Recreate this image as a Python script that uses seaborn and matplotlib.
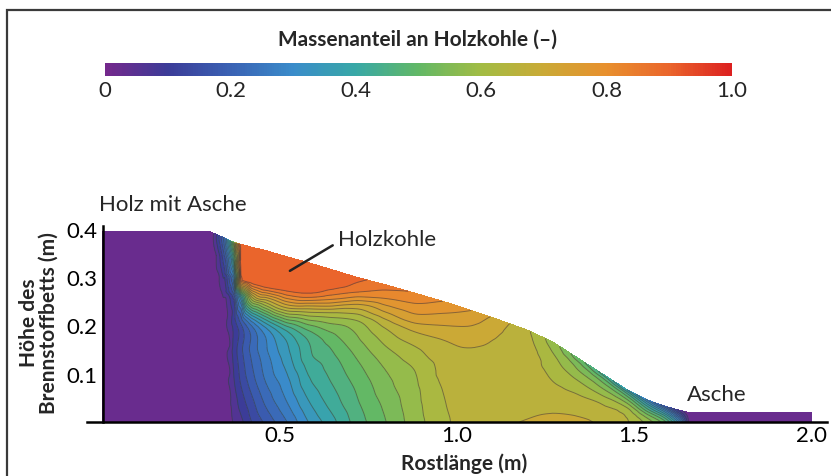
import numpy as np
import matplotlib
matplotlib.use("Agg")
import matplotlib.pyplot as plt
import matplotlib.tri as mtri
from matplotlib.patches import Rectangle
from matplotlib.colors import Normalize
from matplotlib.ticker import MultipleLocator, FixedLocator
import seaborn as sns

sns.set_style("white")
plt.rcParams["font.family"] = ["Lato", "DejaVu Sans"]

# ---------------- data ----------------
# grate positions (m) of the sampled columns
x_cols = [0.00, 0.30, 0.34, 0.37, 0.39, 0.42, 0.46, 0.52, 0.58, 0.64, 0.72, 0.80, 0.88,
          0.96, 1.04, 1.12, 1.20, 1.27, 1.34, 1.41, 1.48, 1.54, 1.59, 1.63, 1.66, 1.80, 2.00]
# bed surface height (m) at those columns
h_top = [0.395, 0.395, 0.382, 0.372, 0.368, 0.362, 0.355, 0.342, 0.330, 0.317, 0.299, 0.284, 0.267,
         0.250, 0.231, 0.211, 0.190, 0.166, 0.133, 0.100, 0.067, 0.045, 0.032, 0.024, 0.019, 0.019, 0.019]
# relative height within the bed (0 = grate, 1 = surface)
s_rows = [0.0, 0.12, 0.25, 0.40, 0.55, 0.70, 0.80, 0.90, 1.00]
# char mass fraction per column, bottom -> top
char_cols = [
    [0, 0, 0, 0, 0, 0, 0, 0, 0],
    [0, 0, 0, 0, 0, 0, 0, 0, 0],
    [0, 0, 0, 0, 0.02, 0.05, 0.09, 0.14, 0.20],
    [0.045, 0.06, 0.08, 0.095, 0.10, 0.15, 0.28, 0.42, 0.55],
    [0.07, 0.10, 0.13, 0.15, 0.16, 0.35, 0.85, 0.905, 0.91],
    [0.12, 0.15, 0.185, 0.21, 0.24, 0.60, 0.895, 0.91, 0.91],
    [0.17, 0.21, 0.245, 0.27, 0.32, 0.65, 0.905, 0.91, 0.91],
    [0.24, 0.28, 0.31, 0.345, 0.40, 0.70, 0.89, 0.91, 0.91],
    [0.32, 0.355, 0.39, 0.425, 0.46, 0.66, 0.87, 0.91, 0.91],
    [0.38, 0.41, 0.435, 0.46, 0.50, 0.62, 0.80, 0.905, 0.91],
    [0.46, 0.475, 0.49, 0.515, 0.55, 0.60, 0.70, 0.84, 0.89],
    [0.52, 0.53, 0.545, 0.565, 0.60, 0.65, 0.72, 0.80, 0.86],
    [0.58, 0.585, 0.59, 0.60, 0.63, 0.68, 0.74, 0.79, 0.835],
    [0.63, 0.635, 0.64, 0.65, 0.66, 0.685, 0.72, 0.76, 0.80],
    [0.66, 0.66, 0.662, 0.665, 0.668, 0.685, 0.705, 0.73, 0.76],
    [0.67, 0.667, 0.665, 0.664, 0.664, 0.668, 0.675, 0.685, 0.70],
    [0.685, 0.672, 0.666, 0.664, 0.662, 0.66, 0.655, 0.65, 0.645],
    [0.71, 0.678, 0.665, 0.65, 0.636, 0.62, 0.61, 0.595, 0.58],
    [0.695, 0.675, 0.66, 0.645, 0.62, 0.59, 0.565, 0.54, 0.50],
    [0.67, 0.66, 0.65, 0.635, 0.60, 0.56, 0.53, 0.49, 0.43],
    [0.645, 0.64, 0.63, 0.61, 0.57, 0.52, 0.48, 0.43, 0.36],
    [0.58, 0.565, 0.54, 0.50, 0.45, 0.40, 0.36, 0.32, 0.27],
    [0.48, 0.46, 0.43, 0.39, 0.34, 0.29, 0.25, 0.21, 0.17],
    [0.28, 0.26, 0.23, 0.20, 0.16, 0.13, 0.10, 0.08, 0.06],
    [0, 0, 0, 0, 0, 0, 0, 0, 0],
    [0, 0, 0, 0, 0, 0, 0, 0, 0],
    [0, 0, 0, 0, 0, 0, 0, 0, 0],
]
cbar_ticks = [0, 0.2, 0.4, 0.6, 0.8, 1.0]
cbar_labels = ["0", "0.2", "0.4", "0.6", "0.8", "1.0"]
x_ticks = [0.5, 1.0, 1.5, 2.0]
y_ticks = [0.1, 0.2, 0.3, 0.4]

# ---------------- colour map (sampled from the colour bar) ----------------
cmap_colors = ["#74288c", "#3b3c98", "#3a62b4", "#3a8cca", "#38a8a6", "#62b866",
               "#a2bc44", "#caaa36", "#e8902e", "#ea662c", "#dc2020"]
cmap = sns.blend_palette(cmap_colors, n_colors=256, as_cmap=True)
norm = Normalize(0, 1)

# ---------------- geometry / field ----------------
xc = np.asarray(x_cols)
hc = np.asarray(h_top)
sr = np.asarray(s_rows)
X = np.tile(xc, (len(sr), 1))
Y = sr[:, None] * hc[None, :]
Z = np.asarray(char_cols, dtype=float).T

ncol = len(xc)
tris = []
for j in range(len(sr) - 1):
    for i in range(ncol - 1):
        a = j * ncol + i
        tris.append([a, a + 1, a + ncol + 1])
        tris.append([a, a + ncol + 1, a + ncol])
tri = mtri.Triangulation(X.ravel(), Y.ravel(), np.array(tris))
zf = Z.ravel()
refiner = mtri.UniformTriRefiner(tri)
tri_r, z_lin = refiner.refine_field(zf, triinterpolator=mtri.LinearTriInterpolator(tri, zf), subdiv=3)
_, z_cub = refiner.refine_field(zf, triinterpolator=mtri.CubicTriInterpolator(tri, zf, kind="geom"), subdiv=3)
# smooth, but stay close to the linear surface (no ringing)
z_r = np.clip(z_cub, z_lin - 0.03, z_lin + 0.03)
z_r = np.where(z_lin <= 0, 0.0, np.clip(z_r, 0.0, zf.max()))

levels = np.linspace(0, 1, 26)

fig = plt.figure(figsize=(8.31, 4.77), dpi=100)
ax = fig.add_axes([87 / 831, 54 / 477, 740 / 831, 198 / 477])

ax.tricontourf(tri_r, z_r, levels=levels, cmap=cmap, norm=norm)
ax.tricontour(tri_r, z_r, levels=levels[1:-1], colors="#3c3c3c", linewidths=0.7, alpha=0.55)

ax.set_xlim(-0.045, 2.045)
ax.set_ylim(0, 0.41)
for side in ["top", "right"]:
    ax.spines[side].set_visible(False)
ax.spines["left"].set_position(("data", 0))
ax.spines["left"].set_bounds(0, 0.405)
ax.spines["left"].set_linewidth(1.8)
ax.spines["bottom"].set_linewidth(1.8)
ax.spines["left"].set_color("black")
ax.spines["bottom"].set_color("black")

ax.xaxis.set_major_locator(FixedLocator(x_ticks))
ax.set_xticklabels(["0.5", "1.0", "1.5", "2.0"])
ax.yaxis.set_major_locator(FixedLocator(y_ticks))
ax.set_yticklabels(["0.1", "0.2", "0.3", "0.4"])
ax.xaxis.set_minor_locator(MultipleLocator(0.1))
ax.yaxis.set_minor_locator(MultipleLocator(0.02))
ax.tick_params(axis="both", which="major", direction="in", length=3, width=1.5,
               labelsize=16, colors="black", pad=2)
ax.tick_params(axis="both", which="minor", direction="in", length=2, width=1.2, colors="black")
ax.tick_params(axis="y", which="major", pad=4)

ax.set_xlabel("Rostlänge (m)", fontsize=15, fontweight="bold", labelpad=1)
ax.xaxis.set_label_coords((464 - 87) / 740, -0.155)
fig.text(39 / 831, (477 - 323) / 477, "Höhe des\nBrennstoffbetts (m)", rotation=90,
         ha="center", va="center", multialignment="center", fontsize=15,
         fontweight="bold", linespacing=1.0)

# annotations
ax.text(-0.01, 0.452, "Holz mit Asche", fontsize=16, ha="left", va="center", clip_on=False)
ax.annotate("Holzkohle", xy=(0.528, 0.313), xytext=(0.665, 0.379), fontsize=16,
            ha="left", va="center",
            arrowprops=dict(arrowstyle="-", lw=1.8, color="#222222",
                            shrinkA=2, shrinkB=0, relpos=(0, 0.35)))
ax.text(1.65, 0.058, "Asche", fontsize=16, ha="left", va="center")

# colour bar
cax = fig.add_axes([105 / 831, (477 - 77) / 477, 627 / 831, 13 / 477])
sm = plt.cm.ScalarMappable(norm=norm, cmap=cmap)
cb = fig.colorbar(sm, cax=cax, orientation="horizontal")
cb.outline.set_visible(False)
cb.set_ticks(cbar_ticks)
cb.set_ticklabels(cbar_labels)
cax.tick_params(length=0, labelsize=16, pad=3)
fig.text(418 / 831, (477 - 40) / 477, "Massenanteil an Holzkohle (–)", fontsize=15,
         fontweight="bold", ha="center", va="center")

# outer frame
fig.patches.append(Rectangle((7 / 831, -0.2), 1.2, (477 - 11) / 477 + 0.2,
                             transform=fig.transFigure, fill=False,
                             edgecolor="#3a3a3a", linewidth=1.6))

fig.savefig("out.png", dpi=100)
